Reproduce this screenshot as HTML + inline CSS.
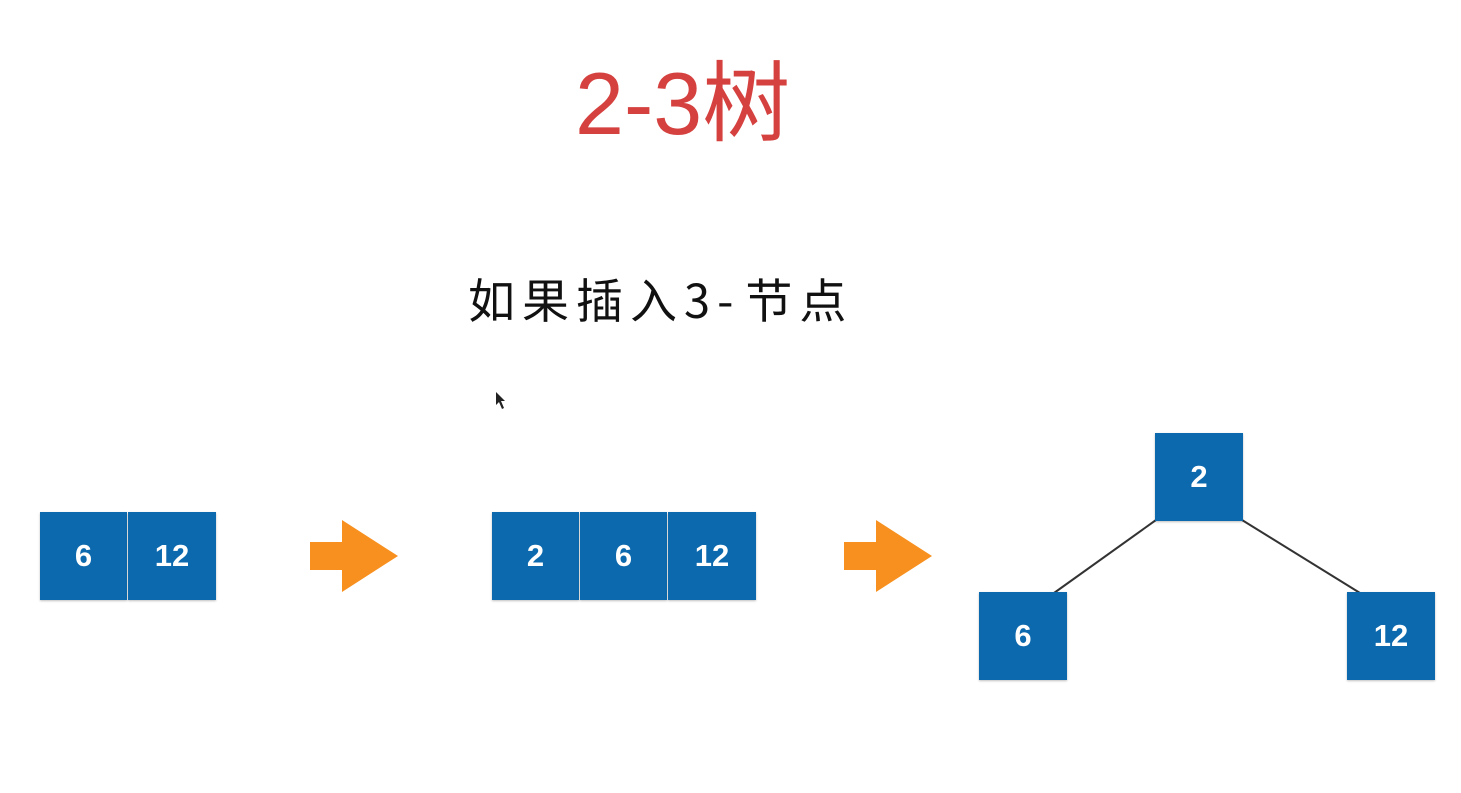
<!DOCTYPE html>
<html><head><meta charset="utf-8"><style>
body{margin:0;width:1461px;height:793px;background:#fff;position:relative;overflow:hidden;font-family:"Liberation Sans","Noto Sans CJK SC",sans-serif}
.t{position:absolute;white-space:nowrap}
.b{position:absolute;background:#0c69ae;color:#fff;font:bold 31px "Liberation Sans",sans-serif;display:flex;align-items:center;justify-content:center;box-shadow:0 1px 2px rgba(0,0,0,.25)}
</style></head><body>
<div class="t" style="left:575px;top:54px;font-size:88px;line-height:100px;color:#d5413f;">2-3树</div>
<div class="t" style="left:468px;top:270px;font-size:47px;line-height:56px;color:#111;letter-spacing:7px;font-family:'Noto Sans CJK SC',sans-serif;">如果插入3<span style="letter-spacing:12px">-</span>节点</div>
<svg width="1461" height="793" style="position:absolute;left:0;top:0">
<line x1="1156" y1="520" x2="1054" y2="593" stroke="#333" stroke-width="2"/>
<line x1="1242" y1="520" x2="1360" y2="593" stroke="#333" stroke-width="2"/>
<polygon points="310,542 342,542 342,520 398,556 342,592 342,570 310,570" fill="#f7901e"/>
<polygon points="844,542 876,542 876,520 932,556 876,592 876,570 844,570" fill="#f7901e"/>
<polygon points="496,392 496,405 499,402 502,409 504,408 501,401 505,401" fill="#222"/>
</svg>
<div class="b" style="left:40px;top:512px;width:87px;height:88px">6</div>
<div class="b" style="left:128px;top:512px;width:88px;height:88px">12</div>
<div class="b" style="left:492px;top:512px;width:87px;height:88px">2</div>
<div class="b" style="left:580px;top:512px;width:87px;height:88px">6</div>
<div class="b" style="left:668px;top:512px;width:88px;height:88px">12</div>
<div class="b" style="left:1155px;top:433px;width:88px;height:88px">2</div>
<div class="b" style="left:979px;top:592px;width:88px;height:88px">6</div>
<div class="b" style="left:1347px;top:592px;width:88px;height:88px">12</div>
</body></html>
